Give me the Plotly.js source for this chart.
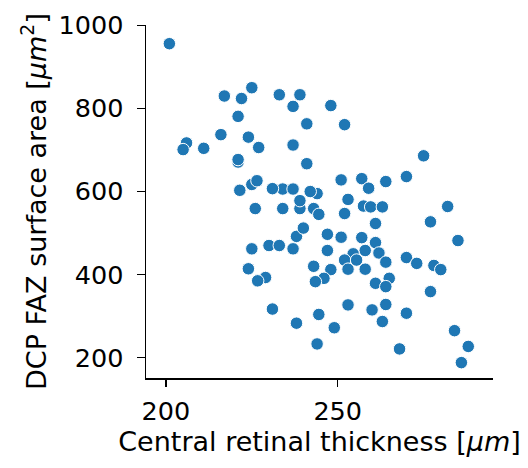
<!DOCTYPE html>
<html>
<head>
<meta charset="utf-8">
<script src="https://cdn.plot.ly/plotly-3.0.1.min.js"></script>
<style>html,body{margin:0;padding:0;background:#fff;}#chart{width:528px;height:468px;}</style>
</head>
<body>
<div id="chart"></div>
<script>
// Central retinal thickness [um]
const thickness = [201,217,222,225,233,239,237,221,241,216,224,227,237,206,205,211,221,221,241,248,
  252,275,251,257,259,264,270,244,242,253,225,221.5,226.5,234,231,237,226,234,239,243,
  239,244.5,252,257.5,259.6,263,261,282,277,285,238,240,225,230,233,237,247,251,257,261,
  247,258,262,254.5,252,255.5,253,258,264,270,273,278,280,243,248,246,243.5,261,265,264,
  277,224,229,226.7,231,238,244.5,244,253,264,260,263,270,249,268,284,288,286];
// DCP FAZ surface area [um^2]
const fazArea = [956,830,824,850,833,833,805,781,763,737,731,706,712,717,701,704,671,677,667,807,
  761,686,628,631,608,624,636,595,600,581,617,603,626,606,607,606,559,559,559,559,
  578,545,547,565,563,563,523,564,527,482,492,512,462,470,470,462,497,490,489,477,
  458,458,452,450,435,435,413,413,430,441,427,422,412,420,412,391,383,379,391,371,
  359,414,393,385,317,283,304,233,327,328,315,287,307,272,221,265,227,188];

const xTicks = [200, 250];
const yTicks = [200, 400, 600, 800, 1000];

const tickFont = {family: 'DejaVu Sans, sans-serif', size: 25.5, color: '#000'};
const titleFont = {family: 'DejaVu Sans, sans-serif', size: 27, color: '#000'};

Plotly.newPlot('chart', [{
  type: 'scatter', mode: 'markers',
  x: thickness, y: fazArea,
  marker: {color: '#1f77b4', size: 12.5, line: {color: '#fff', width: 1}},
  hoverinfo: 'skip'
}], {
  width: 528, height: 468,
  margin: {l: 146, r: 35, t: 25, b: 90},
  paper_bgcolor: '#fff', plot_bgcolor: '#fff',
  showlegend: false,
  font: tickFont,
  xaxis: {
    range: [194.2, 295.2], tickvals: xTicks, ticktext: xTicks.map(String),
    showline: true, linecolor: '#000', linewidth: 1.5, mirror: false,
    ticks: 'outside', ticklen: 7, tickwidth: 1.5, tickcolor: '#000',
    ticklabelstandoff: 3,
    showgrid: false, zeroline: false, tickfont: tickFont, automargin: false,
    title: {text: 'Central retinal thickness [<i>μm</i>]', font: titleFont, standoff: 4}
  },
  yaxis: {
    range: [151, 1001], tickvals: yTicks, ticktext: yTicks.map(String),
    showline: true, linecolor: '#000', linewidth: 1.5, mirror: false,
    ticks: 'outside', ticklen: 8, tickwidth: 1.5, tickcolor: '#000',
    ticklabelstandoff: 8,
    showgrid: false, zeroline: false, tickfont: tickFont, automargin: false,
    title: {text: 'DCP FAZ surface area [<i>μm</i><sup>2</sup>]', font: titleFont, standoff: 4}
  }
}, {staticPlot: true});
</script>
</body>
</html>
